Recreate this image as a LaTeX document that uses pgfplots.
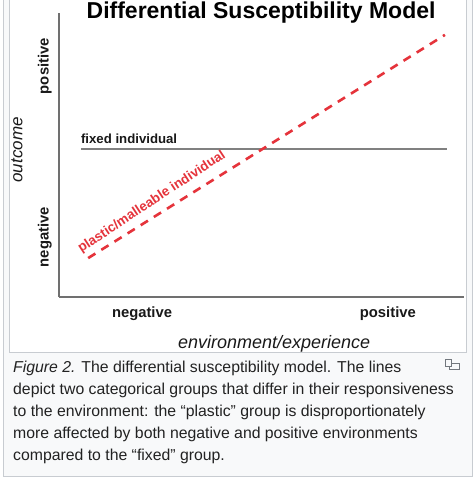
\documentclass[border=0pt]{standalone}
\usepackage{pgfplots}
\pgfplotsset{compat=1.18}
\usepackage{fontspec}
\setmainfont{Liberation Sans}
\definecolor{capbg}{HTML}{F8F9FA}
\definecolor{capborder}{HTML}{C8CCD1}
\definecolor{axisgray}{HTML}{707070}
\definecolor{fixedgray}{HTML}{808080}
\definecolor{plasticred}{HTML}{E5333B}
\definecolor{captext}{HTML}{222222}
\definecolor{icongray}{HTML}{72777D}

\pgfplotstableread{
x y
0.54 5.21
9.58 5.21
}\fixedtab
\pgfplotstableread{
x y
0.72 1.37
9.53 9.23
}\plastictab

\begin{document}
\begin{tikzpicture}[x=1pt,y=1pt]
\useasboundingbox (0,0) rectangle (474,479);
\fill[white] (0,0) rectangle (474,479);
\draw[capborder, fill=capbg, line width=1pt] (3,2) rectangle (472,485);
\draw[capborder, fill=white, line width=1pt] (9,126) rectangle (466,490);
% magnify icon
\draw[icongray, line width=0.9pt] (449.5,109.5) rectangle (459.5,116);
\draw[icongray, line width=0.9pt, fill=capbg] (445.5,113) rectangle (451.5,119.5);
\begin{axis}[
  at={(59pt,182pt)}, anchor=south west,
  scale only axis, width=405pt, height=284pt,
  xmin=0, xmax=10, ymin=0, ymax=10,
  axis x line=bottom, axis y line=left,
  axis line style={-, axisgray, line width=1.4pt},
  major tick length=0pt,
  xtick={2.05,8.12}, xticklabels={negative,positive},
  ytick={2.11,8.13}, yticklabels={negative,positive},
  tick label style={font=\fontsize{14.8}{16}\selectfont\bfseries, text=black!90, inner sep=0pt},
  xticklabel style={anchor=north},
  yticklabel style={rotate=90, anchor=south},
  xticklabel shift=9.5pt,
  yticklabel shift=7pt,
  xlabel={environment/experience},
  ylabel={outcome},
  xlabel style={font=\fontsize{18}{20}\selectfont\itshape, text=black!90, at={(axis description cs:0.531,-0.1655)}, anchor=center},
  ylabel style={font=\fontsize{17}{19}\selectfont\itshape, text=black!90, at={(axis description cs:-0.104,0.518)}, anchor=center},
  title={Differential Susceptibility Model},
  title style={font=\fontsize{23}{25}\selectfont\bfseries, at={(axis description cs:0.499,0.9806)}, anchor=base, yshift=-6pt, inner sep=0pt},
  clip=false,
]
\addplot[fixedgray, line width=2pt] table[x=x,y=y] {\fixedtab};
\addplot[plasticred, line width=2.6pt, dash pattern=on 8.5pt off 7pt] table[x=x,y=y] {\plastictab};
\node[anchor=base west, inner sep=0pt, font=\fontsize{13.2}{14}\selectfont\bfseries, text=black!90] at (axis cs:0.54,5.42) {fixed individual};
\node[anchor=base west, inner sep=0pt, rotate=33.5, font=\fontsize{13.4}{14}\selectfont\bfseries, text=plasticred] at (axis cs:0.55,1.55) {plastic/malleable individual};
\end{axis}
% caption
\begin{scope}[every node/.style={anchor=base west, inner sep=0pt, text=captext, font=\fontsize{15.8}{18}\selectfont}]
\node at (13,106) {\textit{Figure 2.} The differential susceptibility model. The lines};
\node at (13,84) {depict two categorical groups that differ in their responsiveness};
\node at (13,62) {to the environment: the “plastic” group is disproportionately};
\node at (13,40) {more affected by both negative and positive environments};
\node at (13,18) {compared to the “fixed” group.};
\end{scope}
\end{tikzpicture}
\end{document}
